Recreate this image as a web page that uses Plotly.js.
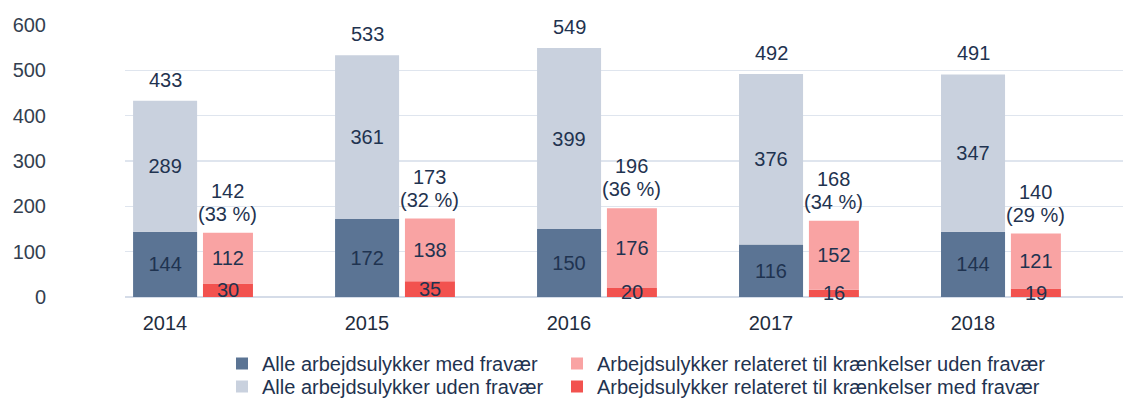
<!DOCTYPE html>
<html>
<head>
<meta charset="utf-8">
<script src="https://cdn.plot.ly/plotly-3.0.1.min.js"></script>
<style>html,body{margin:0;padding:0;background:#fff;}#chart{width:1123px;height:403px;}</style>
</head>
<body>
<div id="chart"></div>
<script>
const years = ['2014', '2015', '2016', '2017', '2018'];
const alleMed = [144, 172, 150, 116, 144];
const alleUden = [289, 361, 399, 376, 347];
const kraenkUden = [112, 138, 176, 152, 121];
const kraenkMed = [30, 35, 20, 16, 19];

const nameAlleMed = 'Alle arbejdsulykker med fravær';
const nameAlleUden = 'Alle arbejdsulykker uden fravær';
const nameKrUden = 'Arbejdsulykker relateret til krænkelser uden fravær';
const nameKrMed = 'Arbejdsulykker relateret til krænkelser med fravær';

const xs = years.map((_, i) => i);
const alleTot = alleMed.map((v, i) => v + alleUden[i]);
const krTot = kraenkMed.map((v, i) => v + kraenkUden[i]);
const pct = krTot.map((v, i) => Math.round(v / alleTot[i] * 100));

const FONT = 'Liberation Sans, Arial, sans-serif';
const NAVY = '#1f3350';
const FS = 20;

const wA = 0.317, offA = -0.158;
const wB = 0.2475, offB = 0.188;

const common = {
  type: 'bar', textposition: 'inside', insidetextanchor: 'middle',
  constraintext: 'none', textfont: {family: FONT, size: FS, color: NAVY},
  hoverinfo: 'skip', cliponaxis: false
};

const traces = [
  Object.assign({}, common, {
    x: xs, y: alleMed, name: nameAlleMed, base: 0, width: wA, offset: offA,
    text: alleMed.map(String), marker: {color: '#5b7494', line: {width: 0}}, legend: 'legend'
  }),
  Object.assign({}, common, {
    x: xs, y: alleUden, name: nameAlleUden, base: alleMed, width: wA, offset: offA,
    text: alleUden.map(String), marker: {color: '#c9d1de', line: {width: 0}}, legend: 'legend3'
  }),
  Object.assign({}, common, {
    x: xs, y: kraenkMed, name: nameKrMed, base: 0, width: wB, offset: offB,
    textposition: 'none', marker: {color: '#f2524f', line: {width: 0}}, legend: 'legend4'
  }),
  Object.assign({}, common, {
    x: xs, y: kraenkUden, name: nameKrUden, base: kraenkMed, width: wB, offset: offB,
    text: kraenkUden.map(String), marker: {color: '#f9a3a3', line: {width: 0}}, legend: 'legend2'
  })
];

const annFont = {family: FONT, size: FS, color: NAVY};
const annotations = [];
xs.forEach((v, i) => {
  annotations.push({
    x: v + offA + wA / 2, y: alleTot[i], xref: 'x', yref: 'y', text: String(alleTot[i]),
    showarrow: false, xanchor: 'center', yanchor: 'middle', yshift: 21, font: annFont
  });
  annotations.push({
    x: v + offB + wB / 2, y: krTot[i], xref: 'x', yref: 'y', text: String(krTot[i]),
    showarrow: false, xanchor: 'center', yanchor: 'middle', yshift: 42, font: annFont
  });
  annotations.push({
    x: v + offB + wB / 2, y: krTot[i], xref: 'x', yref: 'y', text: '(' + pct[i] + ' %)',
    showarrow: false, xanchor: 'center', yanchor: 'middle', yshift: 19, font: annFont
  });
  annotations.push({
    x: v + offB + wB / 2, y: kraenkMed[i] / 2, xref: 'x', yref: 'y', text: String(kraenkMed[i]),
    showarrow: false, xanchor: 'center', yanchor: 'middle', yshift: 0, font: annFont
  });
});

function leg(xpx, ypx) {
  return {
    xref: 'container', yref: 'container', x: xpx / 1123, y: 1 - ypx / 403,
    xanchor: 'left', yanchor: 'top', orientation: 'v',
    font: {family: FONT, size: FS, color: NAVY}, bgcolor: 'rgba(0,0,0,0)', borderwidth: 0
  };
}

const layout = {
  width: 1123, height: 403,
  margin: {l: 125, r: 0, t: 25, b: 105.5, autoexpand: false},
  paper_bgcolor: '#ffffff', plot_bgcolor: '#ffffff',
  barmode: 'overlay',
  font: {family: FONT, size: FS, color: NAVY},
  annotations: annotations,
  xaxis: {
    range: [-0.198, 4.743], tickvals: xs, ticktext: years, automargin: false,
    showgrid: false, zeroline: false, showline: false, ticks: '',
    tickfont: {family: FONT, size: FS, color: '#1f2d40'}, ticklabelstandoff: 12, fixedrange: true
  },
  yaxis: {
    range: [0, 600], tickvals: [0, 100, 200, 300, 400, 500, 600], automargin: false,
    showgrid: true, gridcolor: '#dfe5ee', gridwidth: 1.5,
    zeroline: true, zerolinecolor: '#d5dce8', zerolinewidth: 1.5,
    showline: false, ticks: '', ticklabelstandoff: 78,
    tickfont: {family: FONT, size: FS, color: '#343f50'}, fixedrange: true
  },
  legend: leg(222, 344),
  legend2: leg(557, 344),
  legend3: leg(222, 367),
  legend4: leg(557, 367),
  showlegend: true
};

Plotly.newPlot('chart', traces, layout, {staticPlot: true, displayModeBar: false});
</script>
</body>
</html>
